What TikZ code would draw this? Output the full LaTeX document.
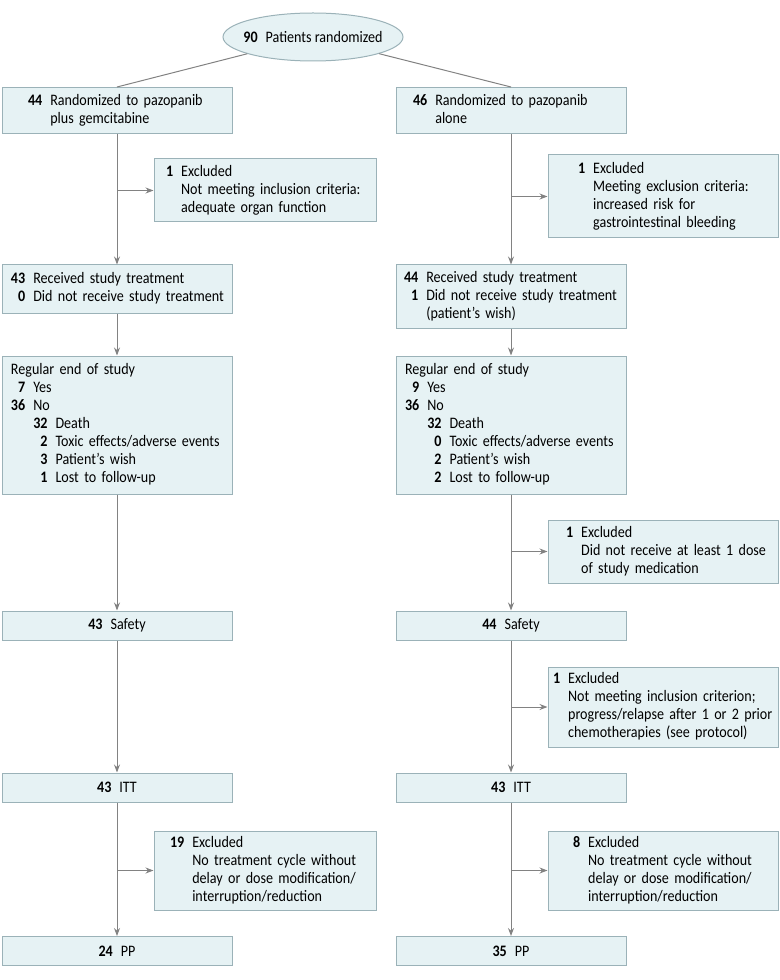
\documentclass[tikz,border=0pt]{standalone}
\usepackage{fontspec}
\setmainfont{Carlito}[FakeStretch=0.88]
\usetikzlibrary{arrows.meta,shapes.geometric,calc}
\setlength{\parindent}{0pt}
\newlength{\pxu}\setlength{\pxu}{0.75pt}
\definecolor{boxfill}{RGB}{230,242,244}
\definecolor{boxdraw}{RGB}{155,178,184}
\definecolor{linegray}{RGB}{130,130,130}
\newcommand{\gp}{\hspace{6pt}}
\newenvironment{cnt}{\begin{tabular}{@{}r@{\gp}l@{}}}{\end{tabular}}
\tikzstyle{box}=[draw=boxdraw,fill=boxfill,line width=0.75pt,inner ysep=0pt,font=\fontsize{12}{13.5}\selectfont]
\tikzstyle{cbox}=[box,minimum width=230\pxu,minimum height=29\pxu]
\tikzstyle{link}=[draw,linegray,line width=0.75pt]
\tikzstyle{arr}=[link,-{Stealth[length=6pt,width=4.5pt]}]
\tikzset{lbox/.style n args={3}{box,align=left,text width={(#1-2*#2)*\pxu},inner xsep={#2*\pxu},minimum height={#3*\pxu}}}

\begin{document}
\begin{tikzpicture}[x=0.75pt,y=-0.75pt]
\useasboundingbox (0,0) rectangle (780,980);

\node[box,ellipse,minimum width=180\pxu,minimum height=48\pxu,inner xsep=-7pt,inner ysep=0pt] (all) at (313,37) {\textbf{90}\gp Patients randomized};

% pazopanib plus gemcitabine
\node[lbox={230}{26}{46}] (pg) at (117,110.5) {\begin{cnt}\textbf{44} & Randomized to pazopanib\\ & plus gemcitabine\end{cnt}};
\node[lbox={222}{12}{63}] (pgex) at (265,190.5) {\begin{cnt}\textbf{1} & Excluded\\ & Not meeting inclusion criteria:\\ & adequate organ function\end{cnt}};
\node[lbox={230}{9}{48}] (pgrec) at (117,289) {\begin{cnt}\textbf{43} & Received study treatment\\ \textbf{0} & Did not receive study treatment\end{cnt}};
\node[lbox={230}{9}{138}] (pgend) at (117,425) {\begin{tabular}{@{}r@{\gp}r@{\gp}l@{}}
  \multicolumn{3}{@{}l@{}}{Regular end of study}\\
  \textbf{7} & \multicolumn{2}{@{}l@{}}{Yes}\\
  \textbf{36} & \multicolumn{2}{@{}l@{}}{No}\\
  & \textbf{32} & Death\\
  & \textbf{2} & Toxic effects/adverse events\\
  & \textbf{3} & Patient’s wish\\
  & \textbf{1} & Lost to follow-up
  \end{tabular}};
\node[lbox={222}{16}{79}] (pgexd) at (265,870.5) {\begin{cnt}\textbf{19} & Excluded\\ & No treatment cycle without\\ & delay or dose modification/\\ & interruption/reduction\end{cnt}};

% pazopanib alone
\node[lbox={230}{17}{46}] (pz) at (511,110.5) {\begin{cnt}\textbf{46} & Randomized to pazopanib\\ & alone\end{cnt}};
\node[lbox={230}{30}{83}] (pzex) at (663,196.5) {\begin{cnt}\textbf{1} & Excluded\\ & Meeting exclusion criteria:\\ & increased risk for\\ & gastrointestinal bleeding\end{cnt}};
\node[lbox={230}{8}{63}] (pzrec) at (511,296.5) {\begin{cnt}\textbf{44} & Received study treatment\\ \textbf{1} & Did not receive study treatment\\ & (patient’s wish)\end{cnt}};
\node[lbox={230}{9}{138}] (pzend) at (511,425) {\begin{tabular}{@{}r@{\gp}r@{\gp}l@{}}
  \multicolumn{3}{@{}l@{}}{Regular end of study}\\
  \textbf{9} & \multicolumn{2}{@{}l@{}}{Yes}\\
  \textbf{36} & \multicolumn{2}{@{}l@{}}{No}\\
  & \textbf{32} & Death\\
  & \textbf{0} & Toxic effects/adverse events\\
  & \textbf{2} & Patient’s wish\\
  & \textbf{2} & Lost to follow-up
  \end{tabular}};
\node[lbox={230}{18}{63}] (pzexb) at (663,551.5) {\begin{cnt}\textbf{1} & Excluded\\ & Did not receive at least 1 dose\\ & of study medication\end{cnt}};
\node[lbox={230}{5}{80}] (pzexc) at (663,707) {\begin{cnt}\textbf{1} & Excluded\\ & Not meeting inclusion criterion;\\ & progress/relapse after 1 or 2 prior\\ & chemotherapies (see protocol)\end{cnt}};
\node[lbox={230}{25}{79}] (pzexd) at (663,870.5) {\begin{cnt}\textbf{8} & Excluded\\ & No treatment cycle without\\ & delay or dose modification/\\ & interruption/reduction\end{cnt}};

% analysis sets
\foreach \pos/\name/\n/\lab in {{(117,625.5)/pgsaf/43/Safety},{(511,625.5)/pzsaf/44/Safety},
    {(117,787.5)/pgitt/43/ITT},{(511,787.5)/pzitt/43/ITT},
    {(117,951)/pgpp/24/PP},{(511,951)/pzpp/35/PP}}
  \node[cbox] (\name) at \pos {\textbf{\n}\gp\lab};

% connectors
\draw[link] (all) -- (pg.north);
\draw[link] (all) -- (pz.north);
\foreach \a/\b in {pg/pgrec,pgrec/pgend,pgend/pgsaf,pgsaf/pgitt,pgitt/pgpp,
    pz/pzrec,pzrec/pzend,pzend/pzsaf,pzsaf/pzitt,pzitt/pzpp}
  \draw[arr] (\a) -- (\b);
\foreach \a/\e in {pg/pgex,pgitt/pgexd,pz/pzex,pzend/pzexb,pzsaf/pzexc,pzitt/pzexd}
  \draw[arr] (\a |- \e) -- (\e);

\end{tikzpicture}
\end{document}
